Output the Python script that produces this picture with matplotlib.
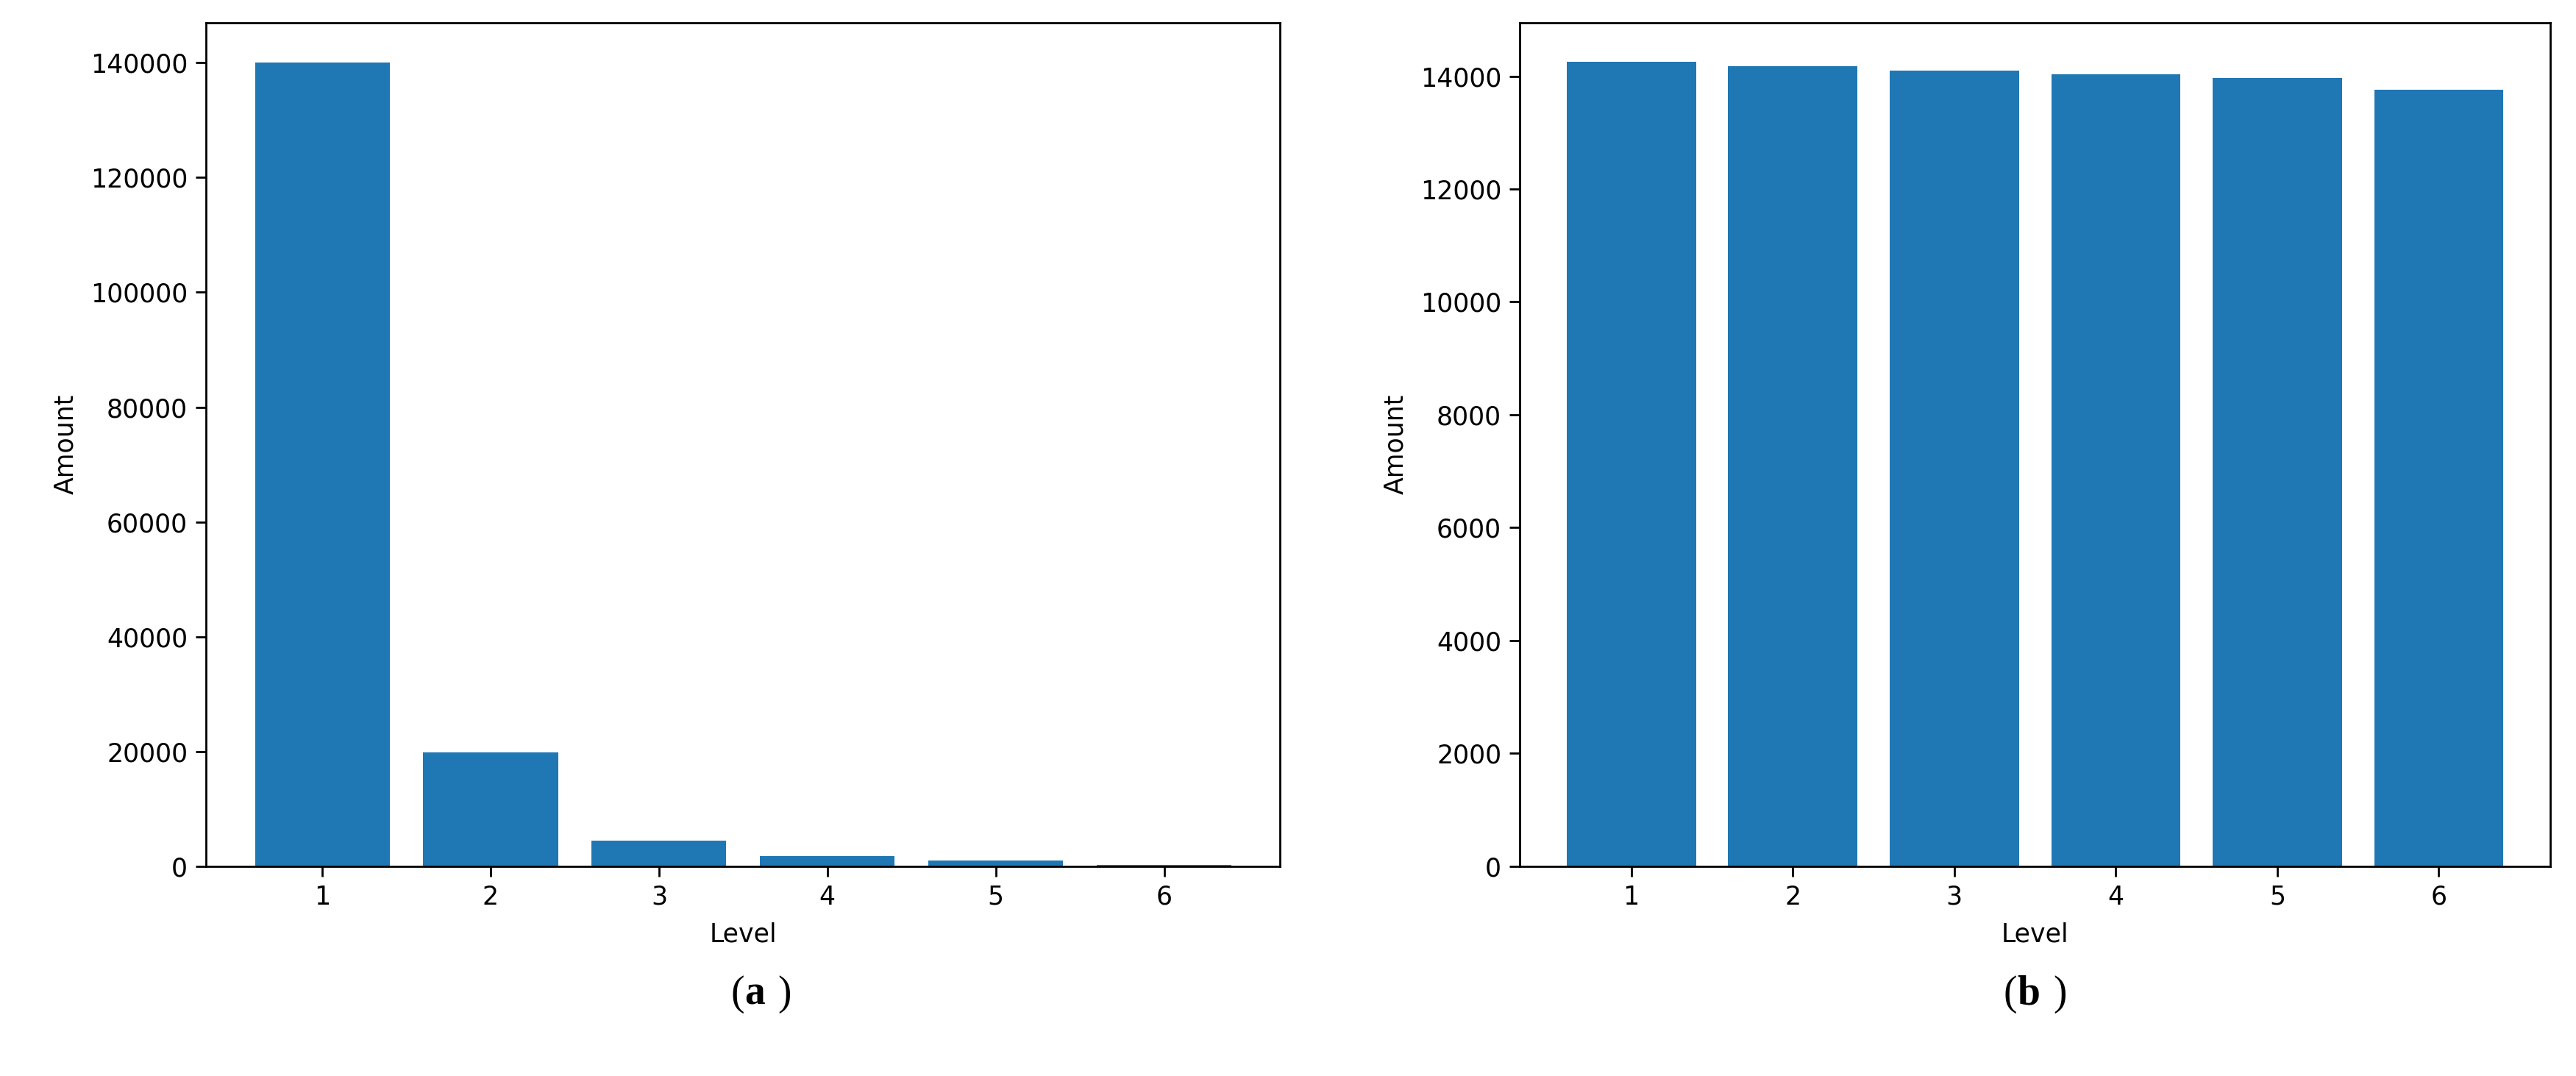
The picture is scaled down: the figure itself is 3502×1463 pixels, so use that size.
import matplotlib.pyplot as plt

levels = [1, 2, 3, 4, 5, 6]
amount_a = [140000, 19800, 4400, 1700, 1000, 200]
amount_b = [14250, 14180, 14100, 14030, 13970, 13760]

fig = plt.figure(figsize=(35.02, 14.63), dpi=100)
ax_a = fig.add_axes([0.080, 0.195, 0.417, 0.784])
ax_b = fig.add_axes([0.590, 0.195, 0.400, 0.784])

for ax, vals, ticks in [
    (ax_a, amount_a, range(0, 140001, 20000)),
    (ax_b, amount_b, range(0, 14001, 2000)),
]:
    ax.bar(levels, vals, color="#1f77b4", width=0.8)
    ax.set_xticks(levels)
    ax.set_yticks(list(ticks))
    ax.tick_params(labelsize=25, length=10, width=2, pad=8)
    ax.set_xlabel("Level", fontsize=25, labelpad=12)
    ax.set_ylabel("Amount", fontsize=25, labelpad=12)
    for s in ax.spines.values():
        s.set_linewidth(2)

ax_a.set_ylim(0, 147000)
ax_b.set_ylim(0, 14950)

fig.text(0.289, 0.076, "(", fontsize=40, family="Liberation Serif", ha="right", va="center")
fig.text(0.289, 0.076, "a", fontsize=40, family="Liberation Serif", weight="bold", ha="left", va="center")
fig.text(0.302, 0.076, ")", fontsize=40, family="Liberation Serif", ha="left", va="center")
fig.text(0.783, 0.076, "(", fontsize=40, family="Liberation Serif", ha="right", va="center")
fig.text(0.783, 0.076, "b", fontsize=40, family="Liberation Serif", weight="bold", ha="left", va="center")
fig.text(0.797, 0.076, ")", fontsize=40, family="Liberation Serif", ha="left", va="center")

fig.savefig("out.png")
